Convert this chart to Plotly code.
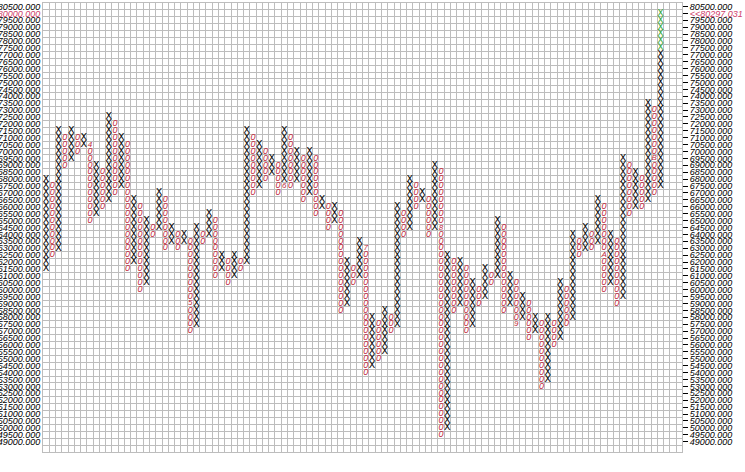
import plotly.graph_objects as go

box_size = 500
col_type = list("OX" * 50)  # 100 alternating columns, first is O
col_high = [68000, 68000, 67500, 71500, 71000, 71500, 71000, 71000, 70500, 69000,
            68500, 72500, 72000, 71000, 70500, 66500, 66000, 65000, 64500, 67000,
            66500, 64500, 64000, 64000, 63500, 64500, 64000, 65500, 65000, 62500,
            62000, 62500, 62000, 71500, 71000, 70500, 70000, 69500, 69000, 71500,
            71000, 70000, 69500, 70000, 69500, 66500, 66000, 66000, 65500, 62000,
            61500, 63500, 63000, 58000, 57500, 58500, 58000, 66000, 65500, 68000,
            67500, 67000, 66500, 69000, 68500, 62500, 62000, 62000, 61500, 60500,
            60000, 61500, 61000, 65000, 64500, 61000, 60500, 59500, 59000, 58000,
            57500, 58000, 57500, 60500, 60000, 64000, 63500, 64500, 64000, 66500,
            66000, 64000, 63500, 69500, 69000, 68500, 68000, 73500, 73000, 80000]
col_low = [61000, 61500, 62500, 63000, 69000, 69500, 70000, 70500, 65000, 65500,
           66000, 66500, 67000, 67500, 61500, 62000, 60000, 60500, 64000, 64500,
           63000, 63500, 63000, 63500, 57000, 57500, 63500, 64000, 61000, 61500,
           60500, 61000, 61500, 62000, 67000, 67500, 68000, 68500, 67000, 67500,
           67500, 68000, 66500, 67000, 65500, 66000, 64500, 65000, 58500, 59000,
           60500, 61000, 54000, 54500, 55000, 55500, 57000, 57500, 64000, 64500,
           66000, 66500, 64000, 64500, 49500, 50000, 58500, 59000, 57000, 57500,
           59000, 59500, 60500, 61000, 58500, 59000, 57500, 58000, 56500, 57000,
           53000, 53500, 56000, 56500, 57500, 58000, 62500, 63000, 63000, 63500,
           60000, 60500, 59000, 59500, 65500, 66000, 66000, 66500, 67000, 67500]
new_box_from = 77500          # boxes of the live column drawn in green
marker_col = [8, 24, 39, 52, 64, 76, 90, 98]
marker_price = [70500, 59000, 67500, 63000, 64500, 57500, 62500, 69500]
marker_text = ["4", "5", "6", "7", "8", "9", "A", "B"]
price_min, price_max = 49000, 80500
price_ticks = list(range(price_min, price_max + 1, box_size))
last_price = 80297.031
highlight_tick = 80000

# ---- expand columns into boxes ----
mk = {(c, p): t for c, p, t in zip(marker_col, marker_price, marker_text)}
xx, xy, ox, oy, gx, gy = [], [], [], [], [], []
last = len(col_type) - 1
for i, (t, hi, lo) in enumerate(zip(col_type, col_high, col_low)):
    p = lo
    while p <= hi:
        if (i, p) not in mk:
            if t == "X":
                if i == last and p >= new_box_from:
                    gx.append(i); gy.append(p)
                else:
                    xx.append(i); xy.append(p)
            else:
                ox.append(i); oy.append(p)
        p += box_size

RED = "#c0283c"
PINK = "#d0406a"
GRID = "#bdbdbd"
LABEL_FONT = "Liberation Sans, Arial"

fig = go.Figure()
fig.add_trace(go.Scatter(x=xx, y=xy, mode="text", text=["X"] * len(xx),
                         textfont=dict(family="DejaVu Sans", size=9.5, color="black"),
                         cliponaxis=False, hoverinfo="skip"))
fig.add_trace(go.Scatter(x=gx, y=gy, mode="text", text=["X"] * len(gx),
                         textfont=dict(family="DejaVu Sans", size=9.5, color="#3aa83a"),
                         cliponaxis=False, hoverinfo="skip"))
fig.add_trace(go.Scatter(x=ox, y=oy, mode="text", text=["0"] * len(ox),
                         textfont=dict(family="Liberation Sans", size=9, color=RED, style="italic"),
                         cliponaxis=False, hoverinfo="skip"))
fig.add_trace(go.Scatter(x=marker_col, y=marker_price, mode="text", text=marker_text,
                         textfont=dict(family="Liberation Sans", size=8, color=RED, style="italic"),
                         cliponaxis=False, hoverinfo="skip"))
fig.add_trace(go.Scatter(x=[None], y=[None], yaxis="y2", hoverinfo="skip"))

n_cols = len(col_type)
x_lo, x_hi = 0.5104, 102.42
y_lo, y_hi = price_min - 1.5 * box_size, price_max + 0.5 * box_size
col_bounds = [k + 0.5 for k in range(0, n_cols + 3)]
row_bounds = [price_min - box_size / 2 + box_size * k for k in range(len(price_ticks) + 1)]

left_text = [(f'<span style="color:{PINK}">{v:.3f}</span>' if v == highlight_tick else f"{v:.3f}")
             for v in price_ticks]
right_text = [(f'<span style="color:{PINK}">&lt;&lt;{last_price:.3f}</span>' if v == highlight_tick
               else f"{v:.3f}") for v in price_ticks]

tickfont = dict(family=LABEL_FONT, size=9, color="black", style="italic")
fig.update_layout(
    width=745, height=472,
    margin=dict(l=43, r=63, t=3, b=20, pad=0),
    paper_bgcolor="white", plot_bgcolor="white",
    showlegend=False,
    xaxis=dict(range=[x_lo, x_hi], tickmode="array", tickvals=col_bounds, automargin=False,
               showticklabels=False, ticks="", showgrid=True, gridcolor=GRID, gridwidth=1,
               zeroline=False, showline=True, linecolor=GRID, mirror=True),
    yaxis=dict(range=[y_lo, y_hi], tickmode="array", tickvals=price_ticks, ticktext=left_text,
               tickfont=tickfont, ticks="", showgrid=False, zeroline=False, automargin=False,
               ticklabelstandoff=0,
               minor=dict(tickmode="array", tickvals=row_bounds, showgrid=True,
                          gridcolor=GRID, gridwidth=1, ticks=""),
               showline=True, linecolor=GRID, mirror=True),
    yaxis2=dict(range=[y_lo, y_hi], overlaying="y", side="right", anchor="x", automargin=False,
                tickmode="array", tickvals=price_ticks, ticktext=right_text,
                tickfont=tickfont, ticks="outside", ticklen=5, tickcolor="black",
                showgrid=False, zeroline=False),
)

fig.write_html("out.html", config={"displayModeBar": False},
               post_script="document.body.style.margin='0';")
